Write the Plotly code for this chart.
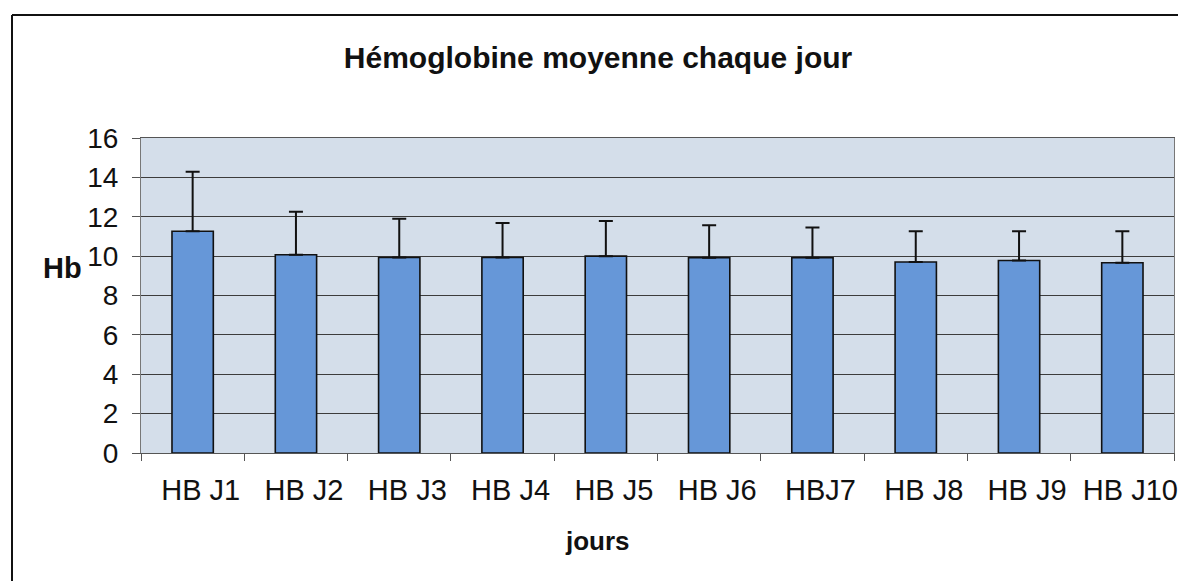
import plotly.graph_objects as go

categories = ["HB J1", "HB J2", "HB J3", "HB J4", "HB J5", "HB J6", "HBJ7", "HB J8", "HB J9", "HB J10"]
hb_mean = [11.26, 10.07, 9.93, 9.93, 10.0, 9.92, 9.92, 9.70, 9.78, 9.66]
hb_sd = [3.03, 2.19, 1.97, 1.75, 1.78, 1.65, 1.54, 1.56, 1.48, 1.60]
y_ticks = [0, 2, 4, 6, 8, 10, 12, 14, 16]

# page body has an 8px default margin; figure is sized to fill the rest of the window
OFF = 8
W, H = 1186 - OFF, 581 - OFF
L, T = 141 - OFF, 138 - OFF
R = W - (1174 - OFF)
B = H - (453 - OFF)
pw, ph = W - L - R, H - T - B

def px_x(sx):
    return (sx - OFF - L) / pw

def px_y(sy):
    return (H - B - (sy - OFF)) / ph

fig = go.Figure()
fig.add_trace(go.Bar(
    x=categories, y=hb_mean,
    marker=dict(color="#6697D8", line=dict(color="#111111", width=1.6)),
    error_y=dict(type="data", array=hb_sd, arrayminus=[0] * len(hb_sd), symmetric=False,
                 color="#111111", thickness=2, width=7),
    width=0.40,
))

fig.update_layout(
    width=W, height=H,
    margin=dict(l=L, r=R, t=T, b=B),
    paper_bgcolor="white",
    plot_bgcolor="#D4DEEA",
    showlegend=False,
    font=dict(family="Liberation Sans, Arial, sans-serif", color="#111111"),
    title=dict(text="<b>Hémoglobine moyenne chaque jour</b>", x=(598 - OFF) / W, xref="container",
               xanchor="center", y=1 - (57 - OFF) / H, yref="container", yanchor="middle",
               font=dict(size=30, color="#111111")),
)

fig.update_xaxes(
    type="category", showgrid=False, automargin=False, tickangle=0,
    tickvals=categories, ticktext=["\u00a0\u00a0" + c for c in categories],
    showline=True, linecolor="#555555", linewidth=1, mirror=True,
    ticks="outside", tickson="boundaries", ticklen=7, tickcolor="#555555",
    tickfont=dict(size=29, color="#111111"), ticklabelstandoff=11,
)
fig.update_yaxes(
    range=[0, 16], tickvals=y_ticks, ticktext=[str(v) for v in y_ticks], automargin=False,
    showgrid=True, gridcolor="#3c3c3c", gridwidth=1.2,
    showline=True, linecolor="#777777", linewidth=1, mirror=True,
    ticks="outside", ticklen=8, tickcolor="#555555",
    tickfont=dict(size=28, color="#111111"), ticklabelstandoff=8,
    zeroline=False,
)

fig.add_annotation(text="<b>Hb</b>", x=px_x(62), y=px_y(268), xref="paper", yref="paper",
                   showarrow=False, font=dict(size=29, color="#111111"), xanchor="center", yanchor="middle")
fig.add_annotation(text="<b>jours</b>", x=px_x(597), y=px_y(541), xref="paper", yref="paper",
                   showarrow=False, font=dict(size=26, color="#111111"), xanchor="center", yanchor="middle")

# outer chart frame (left and top edges visible)
fig.add_shape(type="line", xref="paper", yref="paper", x0=px_x(12), x1=px_x(12), y0=px_y(581), y1=px_y(15),
              line=dict(color="#111111", width=2))
fig.add_shape(type="line", xref="paper", yref="paper", x0=px_x(12), x1=px_x(1186), y0=px_y(15), y1=px_y(15),
              line=dict(color="#111111", width=2))

fig.write_html("out.html")
